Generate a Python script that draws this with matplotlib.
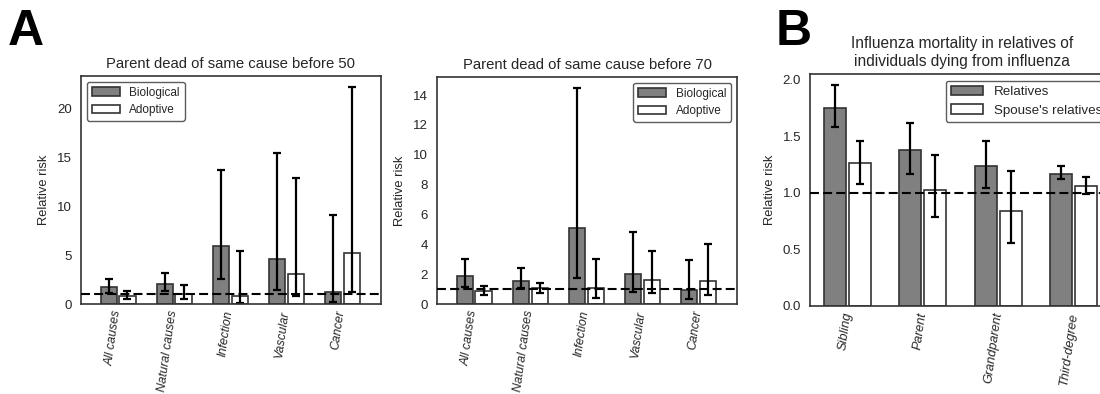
import matplotlib
matplotlib.use("Agg")
import matplotlib.pyplot as plt
import numpy as np
import seaborn as sns

sns.set_style("white")
plt.rcParams['font.family'] = ['Liberation Sans', 'DejaVu Sans']

# relative risk of death, with 95% CI, by parental cause of death
causes = ["All causes", "Natural causes", "Infection", "Vascular", "Cancer"]

bio50 = [1.77, 2.05, 5.88, 4.58, 1.27]
bio50_lo = [1.16, 1.33, 2.53, 1.43, 0.24]
bio50_hi = [2.60, 3.15, 13.7, 15.4, 9.06]
adop50 = [0.82, 1.03, 0.82, 3.11, 5.20]
adop50_lo = [0.48, 0.48, 0.07, 0.82, 1.27]
adop50_hi = [1.37, 1.95, 5.40, 12.85, 22.2]

bio70 = [1.90, 1.54, 5.07, 1.99, 0.94]
bio70_lo = [1.16, 1.05, 1.76, 0.83, 0.31]
bio70_hi = [2.99, 2.43, 14.49, 4.80, 2.95]
adop70 = [0.87, 1.05, 1.05, 1.59, 1.54]
adop70_lo = [0.60, 0.71, 0.42, 0.71, 0.60]
adop70_hi = [1.20, 1.43, 3.01, 3.53, 4.04]

# influenza mortality among relatives
kin = ["Sibling", "Parent", "Grandparent", "Third-degree"]
rel = [1.75, 1.375, 1.237, 1.166]
rel_lo = [1.576, 1.163, 1.037, 1.117]
rel_hi = [1.95, 1.617, 1.455, 1.234]
spouse = [1.258, 1.028, 0.837, 1.055]
spouse_lo = [1.075, 0.786, 0.554, 0.987]
spouse_hi = [1.458, 1.334, 1.193, 1.134]

width = 0.29
offset = 0.33
edge = "#333333"
err_kw = dict(ecolor="black", elinewidth=1.6, capsize=3, capthick=1.6)


def yerr(vals, lo, hi):
    vals = np.array(vals)
    return [vals - np.array(lo), np.array(hi) - vals]


def panel(ax, labels, a, a_lo, a_hi, b, b_lo, b_hi, names, title, loc, xlim,
          fs_tick=8.8, fs_title=10.7, fs_leg=8.5):
    x = np.arange(len(labels))
    ax.bar(x, a, width, color="#808080", edgecolor=edge, linewidth=1.2,
           yerr=yerr(a, a_lo, a_hi), error_kw=err_kw, label=names[0])
    ax.bar(x + offset, b, width, color="white", edgecolor=edge, linewidth=1.2,
           yerr=yerr(b, b_lo, b_hi), error_kw=err_kw, label=names[1])
    ax.axhline(1, color="black", ls="--", lw=1.5, dashes=(4.3, 2), zorder=5)
    ax.set_xlim(*xlim)
    ax.set_xticks(x + 0.25)
    ax.set_xticklabels(labels, rotation=82, ha="right", style="italic",
                       fontsize=fs_tick)
    ax.tick_params(axis="x", pad=0.5)
    ax.tick_params(axis="y", labelsize=9.5, pad=3)
    ax.set_ylabel("Relative risk", fontsize=9.3, labelpad=5)
    ax.set_title(title, fontsize=fs_title)
    for s in ax.spines.values():
        s.set_color("#333333")
        s.set_linewidth(1.2)
    leg = ax.legend(loc=loc, fontsize=fs_leg, frameon=True, fancybox=True,
                    handlelength=2.4, borderpad=0.4, labelspacing=0.45)
    leg.get_frame().set_edgecolor("#333333")
    leg.get_frame().set_linewidth(1.0)


fig = plt.figure(figsize=(11, 3.94), dpi=100)
ax1 = fig.add_axes([0.0736, 0.2284, 0.2727, 0.5787])
ax2 = fig.add_axes([0.3973, 0.2284, 0.2727, 0.5761])
ax3 = fig.add_axes([0.7364, 0.2234, 0.2764, 0.5888])

panel(ax1, causes, bio50, bio50_lo, bio50_hi, adop50, adop50_lo, adop50_hi,
      ["Biological", "Adoptive"], "Parent dead of same cause before 50",
      "upper left", (-0.5, 4.85))
panel(ax2, causes, bio70, bio70_lo, bio70_hi, adop70, adop70_lo, adop70_hi,
      ["Biological", "Adoptive"], "Parent dead of same cause before 70",
      "upper right", (-0.5, 4.85))
panel(ax3, kin, rel, rel_lo, rel_hi, spouse, spouse_lo, spouse_hi,
      ["Relatives", "Spouse's relatives"],
      "Influenza mortality in relatives of\nindividuals dying from influenza",
      "upper right", (-0.33, 3.70), fs_tick=9.2, fs_title=11.2, fs_leg=9.6)
ax3.set_yticks([0.0, 0.5, 1.0, 1.5, 2.0])
ax3.set_yticklabels(["0.0", "0.5", "1.0", "1.5", "2.0"])

fig.text(0.007, 0.886, "A", fontsize=36, fontweight="bold", color="black")
fig.text(0.7055, 0.886, "B", fontsize=36, fontweight="bold", color="black")

fig.savefig("out.png", dpi=100)
